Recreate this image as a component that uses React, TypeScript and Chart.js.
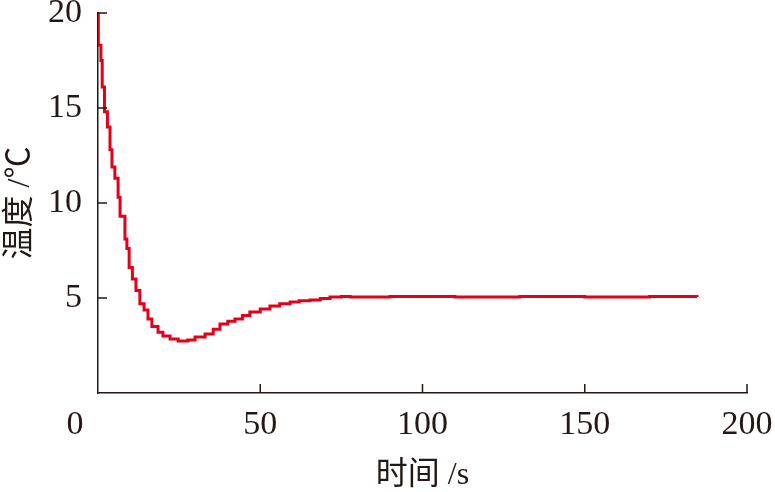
import React, { useEffect, useRef } from 'react';
import { Chart, registerables } from 'chart.js';

Chart.register(...registerables);

// Time (s) at which each reading starts, and the temperature (°C)
const timeS = [
  0, 0.1, 0.9, 1.3, 2.0, 2.9, 3.7, 4.3, 5.2, 6.2, 6.8, 8.3, 8.9, 9.6, 10.6, 11.7,
  12.9, 14.2, 15.4, 16.6, 18.5, 20.0, 22.2, 24.7, 27.7, 29.9, 33.0, 35.5, 37.6,
  40.0, 42.2, 44.5, 46.8, 50.0, 53.0, 56.0, 59.2, 62.0, 65.3, 68.5, 71.5, 75.0,
  77.7, 90, 110, 130, 150, 170, 184.6,
];
const tempC = [
  20, 18.3, 17.5, 16.1, 14.8, 14.0, 12.8, 11.9, 11.3, 10.3, 9.3, 8.1, 7.6, 6.6, 6.0,
  5.4, 4.7, 4.37, 3.9, 3.5, 3.2, 3.0, 2.84, 2.74, 2.79, 2.95, 3.1, 3.35, 3.63, 3.78,
  3.9, 4.08, 4.26, 4.42, 4.58, 4.7, 4.79, 4.85, 4.9, 4.98, 5.05, 5.08, 5.05, 5.08,
  5.05, 5.08, 5.05, 5.08, 5.05,
];

const xTicks = [0, 50, 100, 150, 200];
const yTicks = [5, 10, 15, 20];
const xTitle = '时间 /s';
const yTitle = '温度 /℃';

const AXIS = '#231815';
const RED = '#e3001b';
const SERIF = '"Liberation Serif", "Times New Roman", "Noto Sans CJK SC", serif';
const TICK_SIZE = 34;
const X_TICK_PAD = 12;

export default function App() {
  const ref = useRef<HTMLCanvasElement>(null);

  useEffect(() => {
    if (!ref.current) return;

    const inwardTicks = {
      id: 'inwardTicks',
      afterDraw(chart: any) {
        const { ctx, scales } = chart;
        const x = scales.x;
        const y = scales.y;
        ctx.save();
        ctx.strokeStyle = AXIS;
        ctx.lineWidth = 1.5;
        ctx.beginPath();
        xTicks.forEach((v) => {
          if (v === xTicks[0]) return;
          const px = x.getPixelForValue(v);
          ctx.moveTo(px, y.bottom);
          ctx.lineTo(px, y.bottom - 9);
        });
        yTicks.forEach((v) => {
          const py = y.getPixelForValue(v);
          ctx.moveTo(x.left, py);
          ctx.lineTo(x.left + 9, py);
        });
        ctx.stroke();
        // shared origin label, set off to the left of the corner
        ctx.fillStyle = AXIS;
        ctx.font = `${TICK_SIZE}px ${SERIF}`;
        ctx.textAlign = 'center';
        ctx.textBaseline = 'middle';
        ctx.fillText(String(xTicks[0]), x.left - 23, x.top + X_TICK_PAD + TICK_SIZE * 0.6);
        ctx.restore();
      },
    };

    const chart = new Chart(ref.current, {
      type: 'line',
      data: {
        datasets: [
          {
            data: timeS.map((t, i) => ({ x: t, y: tempC[i] })),
            borderColor: RED,
            borderWidth: 3,
            pointRadius: 0,
            stepped: 'before',
            fill: false,
          },
        ],
      },
      options: {
        animation: false,
        responsive: true,
        maintainAspectRatio: false,
        layout: { padding: { top: 13, right: 28, left: 0, bottom: 0 } },
        plugins: { legend: { display: false }, tooltip: { enabled: false } },
        scales: {
          x: {
            type: 'linear',
            min: 0,
            max: 200,
            grid: { display: false, drawTicks: false },
            border: { display: true, color: AXIS, width: 1.5 },
            afterBuildTicks: (s: any) => {
              s.ticks = xTicks.filter((v) => v !== xTicks[0]).map((v) => ({ value: v }));
            },
            ticks: {
              color: AXIS,
              font: { family: SERIF, size: TICK_SIZE },
              padding: X_TICK_PAD,
              maxRotation: 0,
              autoSkip: false,
            },
            title: {
              display: true,
              text: xTitle,
              color: AXIS,
              font: { family: SERIF, size: 32 },
              padding: { top: 0, bottom: -3 },
            },
            afterFit: (s: any) => {
              s.height = 99;
              s.paddingLeft = 0;
              s.paddingRight = 0;
            },
          },
          y: {
            type: 'linear',
            min: 0,
            max: 20,
            grid: { display: false, drawTicks: false },
            border: { display: true, color: AXIS, width: 1.5 },
            afterBuildTicks: (s: any) => {
              s.ticks = yTicks.map((v) => ({ value: v }));
            },
            ticks: {
              color: AXIS,
              font: { family: SERIF, size: TICK_SIZE },
              padding: 16,
              autoSkip: false,
            },
            title: {
              display: true,
              text: yTitle,
              color: AXIS,
              font: { family: SERIF, size: 32 },
              padding: { top: 1, bottom: 0 },
            },
            afterFit: (s: any) => {
              s.width = 98;
              s.paddingTop = 0;
              s.paddingBottom = 0;
            },
          },
        },
      },
      plugins: [inwardTicks],
    });

    return () => chart.destroy();
  }, []);

  return (
    <div style={{ position: 'absolute', left: 0, top: 0, width: 775, height: 492, background: '#fff' }}>
      <canvas ref={ref} />
    </div>
  );
}
